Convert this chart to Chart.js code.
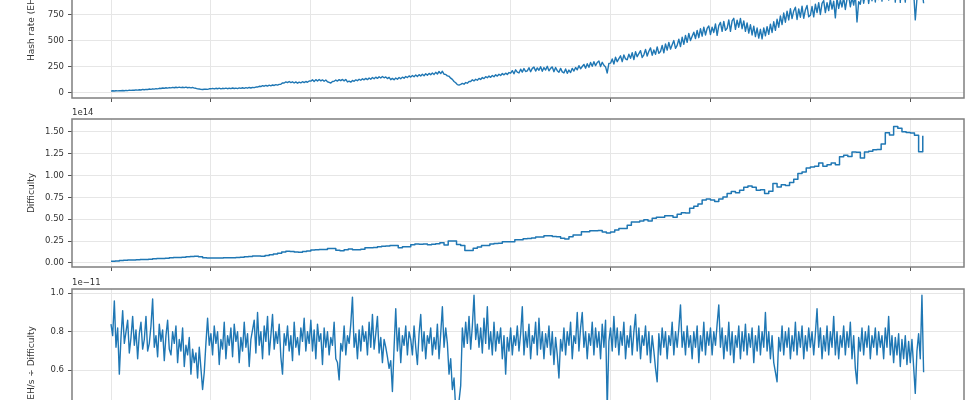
<!DOCTYPE html>
<html><head><meta charset="utf-8">
<script src="https://cdn.jsdelivr.net/npm/chart.js@4.4.1/dist/chart.umd.min.js"></script>
<style>
html,body{margin:0;padding:0;background:#fff;overflow:hidden;width:978px;height:400px;position:relative;}
canvas{position:absolute;left:0;}
</style></head><body>
<canvas id="c1" width="978" height="164" style="top:-60px;width:978px;height:164px"></canvas>
<canvas id="c2" width="978" height="173" style="top:100px;width:978px;height:173px"></canvas>
<canvas id="c3" width="978" height="173" style="top:270px;width:978px;height:173px"></canvas>
<script>
// ---- timeline (fractional years) ----
const START_YEAR = 2018;
const DAILY_STEP = 1 / 60;      // hash-rate and ratio samples
const DIFF_STEP = 1 / 24;       // difficulty samples
const YEAR_TICKS = [2018, 2019, 2020, 2021, 2022, 2023, 2024, 2025, 2026];

// ---- hash rate (EH/s) ----
const hashRate = [
 18,21,19,22,20,23,21,24,22,25, 23,27,25,28,26,30,28,31,29,34, 31,35,33,38,35,40,37,42,40,45,
 43,48,45,50,47,52,49,54,50,55, 51,56,52,55,51,56,50,54,49,53, 47,45,40,38,35,33,36,37,35,40,
 40,44,39,45,41,46,40,45,42,47, 41,46,42,48,43,47,42,49,44,50, 45,51,46,53,48,54,51,57,57,64,
 62,70,65,72,67,75,69,77,72,80, 75,83,84,97,96,106,99,110,100,107, 96,106,94,104,97,108,99,110,103,115,
 114,126,110,128,114,130,116,126,112,124, 108,102,96,110,112,124,114,128,118,130, 116,130,106,114,104,120,112,126,118,132,
 122,136,126,140,128,144,132,148,136,152, 140,156,144,158,146,154,138,150,128,140, 126,144,132,148,136,152,142,158,148,164,
 152,168,156,172,158,176,162,180,166,184, 170,188,174,192,178,198,182,206,186,208, 180,178,164,160,142,130,110,98,80,76,
 82,92,84,100,94,110,110,126,116,132, 122,140,130,148,138,156,146,162,150,168, 156,174,162,180,168,186,174,190,178,196,
 190,214,184,222,200,192,228,200,234,206, 212,242,204,236,248,210,240,218,252,208, 244,220,256,212,236,250,204,244,214,198,
 236,202,192,230,188,220,196,236,210,244, 222,262,232,254,274,238,280,246,292,256, 300,262,292,306,254,294,266,250,192,284,
 286,326,278,342,300,330,356,300,364,326, 318,372,332,386,320,396,348,378,406,340, 366,418,354,400,432,362,412,370,442,380,
 398,456,384,470,410,484,420,462,502,428, 456,516,444,534,466,552,486,570,502,544, 582,522,600,530,616,544,630,556,618,642,
 560,630,580,662,552,646,676,590,686,600, 620,700,590,690,716,610,698,630,714,616, 690,590,672,574,654,556,640,540,622,526,
 610,518,624,548,636,562,660,580,682,600, 706,630,738,656,766,678,784,700,808,712, 786,822,704,806,726,832,716,796,838,730,
 744,830,730,850,770,866,752,858,884,770, 866,790,896,804,880,720,910,810,892,824, 918,800,900,936,826,916,842,944,680,874,
 850,968,860,952,996,858,978,884,1018,872, 1040,896,1080,880,1110,916,1150,890,1090,946, 1170,870,1130,1230,868,1190,1040,870,1160,1080,
 950,1060,980,700,900,1010,960,1000,860
];

// ---- difficulty (trillions) ----
const difficulty = [
 2.0,2.4,2.9,3.0,3.3,3.5,3.8,4.0,4.1,4.3,4.9,5.0,5.2,5.4,5.9,6.4,6.4,6.7,7.2,7.5,7.6,7.2,6.0,5.6,
 5.6,5.6,5.8,6.1,6.1,6.1,6.4,6.5,7.0,7.5,7.9,8.0,7.8,8.5,9.5,10.2,11.0,12.5,13.5,13.0,12.5,12.4,13.0,13.8,
 14.8,15.0,15.5,15.5,16.5,16.6,14.6,13.9,15.1,16.1,15.1,15.1,15.8,17.3,17.3,17.6,18.6,19.2,19.3,20.0,20.0,17.3,18.7,18.6,
 20.8,21.7,21.4,21.7,20.8,21.5,21.9,23.1,20.6,25.0,25.0,21.0,19.9,14.4,14.4,16.8,18.4,19.9,19.9,21.7,22.3,22.7,24.3,24.3,
 24.3,26.7,26.6,27.6,28.0,28.6,29.8,29.8,31.2,31.2,30.3,29.9,28.2,27.5,30.0,32.0,32.0,35.6,35.6,36.8,36.8,37.0,35.4,34.2,
 35.4,37.6,39.4,39.4,43.0,46.8,46.8,47.9,49.5,48.0,51.2,52.4,52.4,53.9,53.9,52.4,55.6,57.3,57.1,62.5,64.7,67.3,72.0,73.2,
 72.0,70.3,73.2,75.5,79.4,81.7,80.2,83.1,86.4,88.1,86.4,83.1,83.7,79.5,82.0,90.7,86.9,89.5,88.4,92.0,95.7,102.3,103.9,108.5,
 109.8,110.5,114.2,110.6,112.1,114.2,112.2,121.5,123.2,121.7,126.9,126.4,120.0,126.9,127.6,129.4,129.7,136.0,148.9,146.3,156.0,154.0,150.0,149.0,
 148.6,146.0,127.2,145.4
];

// ---- hash rate / difficulty (x 1e-11) ----
const ratio = [
 0.84,0.78,0.96,0.72,0.82,0.58,0.77,0.91,0.74,0.80, 0.86,0.69,0.77,0.88,0.73,0.81,0.66,0.79,0.85,0.71, 0.76,0.88,0.70,0.74,0.83,0.97,0.72,0.78,0.67,0.84,
 0.75,0.81,0.65,0.78,0.86,0.71,0.68,0.80,0.74,0.83, 0.64,0.76,0.70,0.82,0.62,0.73,0.68,0.77,0.58,0.71, 0.64,0.69,0.56,0.72,0.61,0.50,0.59,0.74,0.87,0.73,
 0.79,0.68,0.83,0.74,0.80,0.63,0.76,0.71,0.85,0.66, 0.78,0.73,0.82,0.67,0.84,0.75,0.80,0.64,0.77,0.70, 0.85,0.72,0.79,0.62,0.76,0.81,0.86,0.69,0.90,0.73,
 0.80,0.66,0.83,0.75,0.88,0.68,0.78,0.89,0.71,0.80, 0.74,0.84,0.67,0.58,0.79,0.73,0.83,0.70,0.78,0.65, 0.85,0.72,0.77,0.68,0.82,0.75,0.87,0.70,0.80,0.74,
 0.86,0.70,0.81,0.66,0.84,0.75,0.79,0.63,0.82,0.72, 0.80,0.68,0.77,0.73,0.85,0.66,0.64,0.55,0.74,0.70, 0.83,0.68,0.78,0.74,0.84,0.98,0.72,0.79,0.66,0.81,
 0.70,0.83,0.75,0.80,0.68,0.85,0.72,0.89,0.71,0.79, 0.88,0.69,0.77,0.64,0.76,0.72,0.67,0.61,0.65,0.49, 0.72,0.92,0.70,0.82,0.64,0.78,0.73,0.83,0.68,0.80,
 0.76,0.68,0.83,0.72,0.63,0.79,0.89,0.70,0.80,0.66, 0.78,0.74,0.82,0.68,0.77,0.71,0.84,0.66,0.79,0.93, 0.72,0.82,0.74,0.58,0.66,0.50,0.56,0.40,0.30,0.44,
 0.52,0.82,0.72,0.85,0.74,0.88,0.71,0.83,0.99,0.76, 0.84,0.72,0.82,0.69,0.87,0.74,0.93,0.71,0.80,0.68, 0.85,0.70,0.80,0.74,0.82,0.66,0.78,0.58,0.77,0.70,
 0.82,0.68,0.78,0.73,0.83,0.70,0.79,0.93,0.68,0.80, 0.72,0.84,0.66,0.78,0.74,0.85,0.68,0.87,0.71,0.80, 0.66,0.79,0.72,0.83,0.68,0.80,0.63,0.77,0.68,0.56,
 0.76,0.70,0.82,0.68,0.80,0.73,0.85,0.66,0.78,0.74, 0.90,0.70,0.82,0.90,0.72,0.80,0.66,0.79,0.73,0.85, 0.68,0.82,0.72,0.80,0.66,0.84,0.72,0.86,0.40,0.75,
 0.82,0.70,0.88,0.72,0.82,0.68,0.80,0.73,0.85,0.66, 0.78,0.72,0.83,0.68,0.80,0.89,0.70,0.82,0.66,0.78, 0.73,0.83,0.68,0.80,0.64,0.78,0.70,0.61,0.54,0.79,
 0.68,0.82,0.72,0.80,0.66,0.78,0.73,0.85,0.68,0.80, 0.72,0.82,0.94,0.72,0.80,0.68,0.83,0.72,0.78,0.66, 0.80,0.72,0.83,0.64,0.78,0.70,0.85,0.68,0.80,0.73,
 0.82,0.68,0.80,0.73,0.84,0.94,0.72,0.82,0.66,0.78, 0.70,0.85,0.68,0.80,0.64,0.78,0.72,0.83,0.66,0.80, 0.70,0.84,0.68,0.79,0.72,0.82,0.64,0.78,0.70,0.83,
 0.68,0.80,0.72,0.90,0.70,0.80,0.66,0.78,0.64,0.59, 0.54,0.77,0.70,0.83,0.68,0.80,0.72,0.82,0.66,0.78, 0.70,0.85,0.68,0.80,0.72,0.83,0.66,0.78,0.70,0.82,
 0.72,0.80,0.68,0.79,0.92,0.72,0.82,0.66,0.78,0.70, 0.83,0.68,0.80,0.72,0.88,0.68,0.80,0.66,0.78,0.72, 0.83,0.68,0.80,0.72,0.85,0.66,0.78,0.61,0.53,0.77,
 0.70,0.82,0.68,0.80,0.72,0.83,0.66,0.78,0.72,0.82, 0.68,0.80,0.72,0.78,0.66,0.82,0.72,0.88,0.68,0.78, 0.64,0.77,0.68,0.79,0.62,0.76,0.66,0.78,0.63,0.75,
 0.64,0.76,0.62,0.48,0.70,0.79,0.66,0.99,0.59
];

// ---- tick values ----
const hashTicks = [0, 250, 500, 750, 1000, 1250];
const diffTicks = [0, 25, 50, 75, 100, 125, 150];
const ratioTicks = [0.4, 0.6, 0.8, 1.0];

// ---- styling ----
const LINE = '#1f77b4', GRID = '#e6e6e6', TICKC = '#555', SPINE = '#7f7f7f', TEXT = '#333';
const X_MIN = 2017.6096, X_MAX = 2026.5376;
Chart.defaults.font.family = "'DejaVu Sans', sans-serif";
Chart.defaults.font.size = 8.5;
Chart.defaults.color = TEXT;

const spines = {
  id: 'spines',
  afterDatasetsDraw(chart) {
    const {ctx, chartArea: a} = chart;
    ctx.save(); ctx.strokeStyle = SPINE; ctx.lineWidth = 1.5;
    ctx.strokeRect(a.left, a.top, a.right - a.left, a.bottom - a.top);
    ctx.restore();
  }
};
const offsetLabel = {
  id: 'offsetLabel',
  afterDraw(chart, args, opts) {
    if (!opts || !opts.text) return;
    const {ctx, chartArea: a} = chart;
    ctx.save(); ctx.fillStyle = TEXT; ctx.font = "8.5px 'DejaVu Sans', sans-serif";
    ctx.textAlign = 'left'; ctx.textBaseline = 'bottom';
    ctx.fillText(opts.text, a.left, a.top - 2);
    ctx.restore();
  }
};

function toPoints(vals, step) { return vals.map((v, i) => ({x: START_YEAR + i * step, y: v})); }

function makePanel(id, padTop, pts, stepped, width, yMin, yMax, yTicks, fmt, title, offText) {
  new Chart(document.getElementById(id), {
    type: 'line',
    data: { datasets: [{ data: pts, borderColor: LINE, borderWidth: width, pointRadius: 0, tension: 0, stepped: stepped, fill: false, borderJoinStyle: 'round' }] },
    options: {
      responsive: false, animation: false, parsing: false, normalized: true,
      layout: { padding: { top: padTop, right: 14, bottom: 0, left: 0 } },
      plugins: { legend: { display: false }, tooltip: { enabled: false }, offsetLabel: { text: offText } },
      scales: {
        x: {
          type: 'linear', min: X_MIN, max: X_MAX,
          afterBuildTicks: s => { s.ticks = YEAR_TICKS.map(v => ({value: v})); },
          afterFit: s => { s.height = 6; s.paddingLeft = 0; s.paddingRight = 0; },
          ticks: { display: false },
          grid: { color: GRID, lineWidth: 1, drawTicks: true, tickLength: 4, tickColor: TICKC, tickWidth: 1 },
          border: { display: false }
        },
        y: {
          type: 'linear', min: yMin, max: yMax,
          afterBuildTicks: s => { s.ticks = yTicks.map(v => ({value: v})); },
          afterFit: s => { s.width = 72; s.paddingTop = 0; s.paddingBottom = 0; },
          ticks: { callback: fmt, padding: 4, color: TEXT, font: { size: 8.5 } },
          grid: { color: GRID, lineWidth: 1, drawTicks: true, tickLength: 4, tickColor: TICKC, tickWidth: 1 },
          border: { display: false },
          title: { display: true, text: title, color: TEXT, font: { size: 9 }, padding: { top: 26, bottom: 0 } }
        }
      }
    },
    plugins: [spines, offsetLabel]
  });
}

makePanel('c1', 10, toPoints(hashRate, DAILY_STEP), false, 1.4, -47.9, 1369.7, hashTicks,
  v => String(v), 'Hash rate (EH/s)', '');
makePanel('c2', 19, toPoints(difficulty, DIFF_STEP), true, 1.5, -4.57, 164.5, diffTicks,
  v => (v / 100).toFixed(2), 'Difficulty', '1e14');
makePanel('c3', 19, toPoints(ratio, DAILY_STEP), false, 1.4, 0.2535, 1.0223, ratioTicks,
  v => v.toFixed(1), 'EH/s \u00f7 Difficulty', '1e\u221211');
</script></body></html>
